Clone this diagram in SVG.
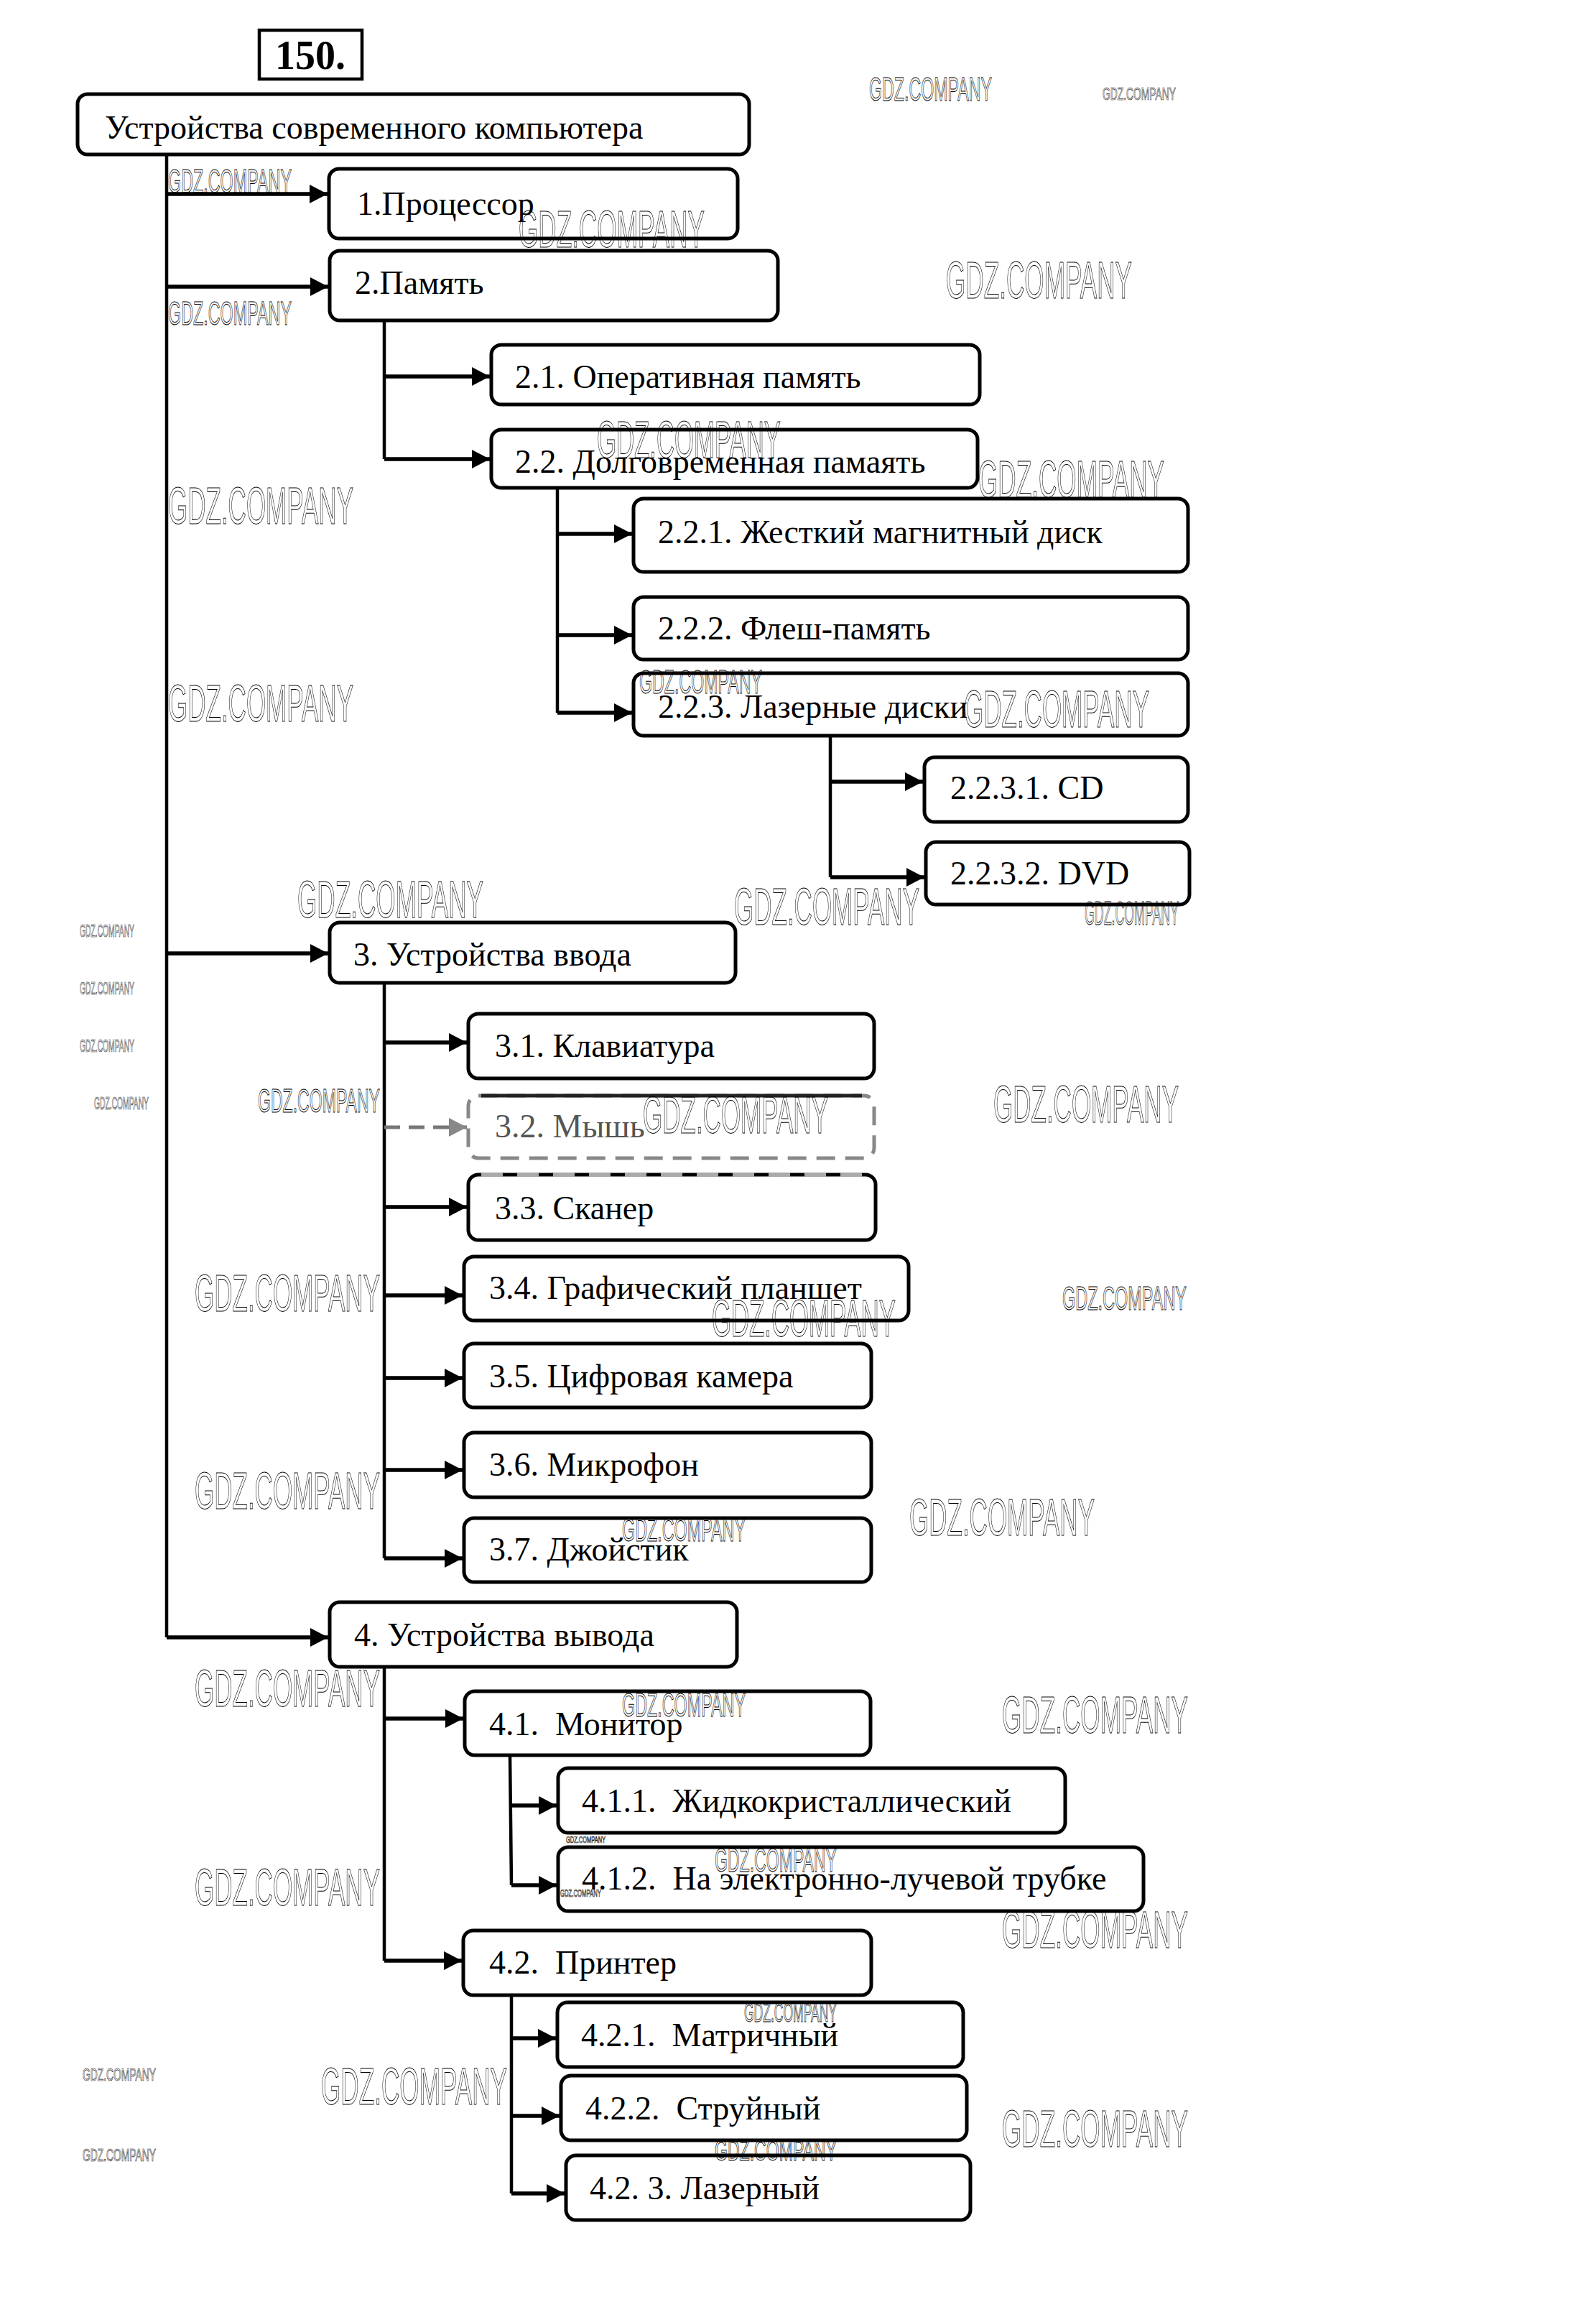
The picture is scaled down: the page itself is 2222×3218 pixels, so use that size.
<svg xmlns="http://www.w3.org/2000/svg" width="2222" height="3218" viewBox="0 0 2222 3218">
<style>
.bg{fill:#fff}
.box{fill:#fff;stroke:#000;stroke-width:5}
.t{font-family:"Liberation Serif","Times New Roman",serif;font-size:46px;fill:#000}
.ln{fill:none;stroke:#000;stroke-width:4.5}
.ar{fill:none;stroke:#000;stroke-width:5.5;marker-end:url(#ah)}
.gr{fill:none;stroke:#777;stroke-width:5;stroke-dasharray:22 12;marker-end:url(#ahg)}
.wm{font-family:"Liberation Sans",Arial,sans-serif;fill:none;stroke:#000;stroke-width:1}
.b{font-size:72px}.s{font-size:46px}.x{font-size:24px;stroke-width:0.7}
</style>
<defs>
<marker id="ah" markerUnits="userSpaceOnUse" markerWidth="26" markerHeight="26" refX="25" refY="13" orient="auto"><path d="M0,0 L25,13 L0,26 z" fill="#000"/></marker>
<marker id="ahg" markerUnits="userSpaceOnUse" markerWidth="26" markerHeight="26" refX="25" refY="13" orient="auto"><path d="M0,0 L25,13 L0,26 z" fill="#888"/></marker>
</defs>
<rect class="bg" x="0" y="0" width="2222" height="3218"/>

<g id="connectors">
<path class="ln" d="M232,215 V2279"/>
<path class="ar" d="M232,270 H456"/>
<path class="ar" d="M232,399 H457"/>
<path class="ar" d="M232,1327 H457"/>
<path class="ar" d="M232,2279 H457"/>
<path class="ln" d="M535,446 V639"/>
<path class="ar" d="M535,524 H682"/>
<path class="ar" d="M535,639 H682"/>
<path class="ln" d="M776,679 V992"/>
<path class="ar" d="M776,743 H880"/>
<path class="ar" d="M776,884 H880"/>
<path class="ar" d="M776,992 H880"/>
<path class="ln" d="M1156,1024 V1221"/>
<path class="ar" d="M1156,1088 H1285"/>
<path class="ar" d="M1156,1221 H1287"/>
<path class="ln" d="M535,1368 V2169"/>
<path class="ar" d="M535,1451 H650"/>
<path class="gr" d="M535,1569 H650"/>
<path class="ar" d="M535,1680 H650"/>
<path class="ar" d="M535,1803 H644"/>
<path class="ar" d="M535,1918 H644"/>
<path class="ar" d="M535,2046 H644"/>
<path class="ar" d="M535,2169 H644"/>
<path class="ln" d="M535,2320 V2729"/>
<path class="ar" d="M535,2392 H645"/>
<path class="ar" d="M535,2729 H643"/>
<path class="ln" d="M710,2443 L712,2624"/>
<path class="ar" d="M710,2513 H775"/>
<path class="ar" d="M712,2624 H775"/>
<path class="ln" d="M712,2777 V3053"/>
<path class="ar" d="M712,2837 H774"/>
<path class="ar" d="M712,2945 H779"/>
<path class="ar" d="M712,3053 H786"/>
</g>

<g id="title"><rect x="361" y="42" width="143" height="68" fill="#fff" stroke="#000" stroke-width="4.5"/><text x="432" y="96" text-anchor="middle" style="font-family:'Liberation Serif',serif;font-weight:bold;font-size:56px">150.</text></g>

<g id="root"><rect class="box" x="108" y="131" width="935" height="84" rx="14"/><text class="t" x="146" y="193">Устройства современного компьютера</text></g>
<g id="n1"><rect class="box" x="458" y="235" width="569" height="97" rx="14"/><text class="t" x="497" y="299">1.Процессор</text></g>
<g id="n2"><rect class="box" x="459" y="349" width="624" height="97" rx="14"/><text class="t" x="494" y="409">2.Память</text></g>
<g id="n21"><rect class="box" x="684" y="480" width="680" height="83" rx="14"/><text class="t" x="717" y="540">2.1. Оперативная память</text></g>
<g id="n22"><rect class="box" x="684" y="598" width="677" height="81" rx="14"/><text class="t" x="717" y="658">2.2. Долговременная памаять</text></g>
<g id="n221"><rect class="box" x="882" y="694" width="772" height="102" rx="14"/><text class="t" x="916" y="756">2.2.1. Жесткий магнитный диск</text></g>
<g id="n222"><rect class="box" x="882" y="831" width="772" height="87" rx="14"/><text class="t" x="916" y="890">2.2.2. Флеш-память</text></g>
<g id="n223"><rect class="box" x="882" y="937" width="772" height="87" rx="14"/><text class="t" x="916" y="999">2.2.3. Лазерные диски</text></g>
<g id="n2231"><rect class="box" x="1287" y="1054" width="367" height="90" rx="14"/><text class="t" x="1323" y="1112">2.2.3.1. CD</text></g>
<g id="n2232"><rect class="box" x="1289" y="1172" width="367" height="87" rx="14"/><text class="t" x="1323" y="1231">2.2.3.2. DVD</text></g>
<g id="n3"><rect class="box" x="459" y="1284" width="565" height="84" rx="14"/><text class="t" x="492" y="1344">3. Устройства ввода</text></g>
<g id="n31"><rect class="box" x="652" y="1411" width="565" height="90" rx="14"/><text class="t" x="689" y="1471">3.1. Клавиатура</text></g>
<g id="n32"><rect x="652" y="1525" width="565" height="87" rx="14" fill="#fff" stroke="#888" stroke-width="5" stroke-dasharray="26 14"/><path d="M670,1525 H1200" stroke="#222" stroke-width="5"/><text class="t" x="689" y="1583" style="fill:#555">3.2. Мышь</text></g>
<g id="n33"><rect class="box" x="652" y="1635" width="567" height="91" rx="14"/><path d="M670,1635 H1200" stroke="#aaa" stroke-width="6" stroke-dasharray="30 20"/><text class="t" x="689" y="1697">3.3. Сканер</text></g>
<g id="n34"><rect class="box" x="646" y="1749" width="619" height="89" rx="14"/><text class="t" x="681" y="1808">3.4. Графический планшет</text></g>
<g id="n35"><rect class="box" x="646" y="1870" width="567" height="89" rx="14"/><text class="t" x="681" y="1931">3.5. Цифровая камера</text></g>
<g id="n36"><rect class="box" x="646" y="1994" width="567" height="90" rx="14"/><text class="t" x="681" y="2054">3.6. Микрофон</text></g>
<g id="n37"><rect class="box" x="646" y="2113" width="567" height="89" rx="14"/><text class="t" x="681" y="2172">3.7. Джойстик</text></g>
<g id="n4"><rect class="box" x="459" y="2230" width="567" height="90" rx="14"/><text class="t" x="493" y="2291">4. Устройства вывода</text></g>
<g id="n41"><rect class="box" x="647" y="2354" width="565" height="89" rx="14"/><text class="t" x="681" y="2415" xml:space="preserve">4.1.  Монитор</text></g>
<g id="n411"><rect class="box" x="777" y="2461" width="706" height="90" rx="14"/><text class="t" x="810" y="2522" xml:space="preserve">4.1.1.  Жидкокристаллический</text></g>
<g id="n412"><rect class="box" x="777" y="2571" width="815" height="89" rx="14"/><text class="t" x="810" y="2630" xml:space="preserve">4.1.2.  На электронно-лучевой трубке</text></g>
<g id="n42"><rect class="box" x="645" y="2687" width="568" height="90" rx="14"/><text class="t" x="681" y="2747" xml:space="preserve">4.2.  Принтер</text></g>
<g id="n421"><rect class="box" x="776" y="2787" width="565" height="90" rx="14"/><text class="t" x="809" y="2848" xml:space="preserve">4.2.1.  Матричный</text></g>
<g id="n422"><rect class="box" x="781" y="2889" width="565" height="90" rx="14"/><text class="t" x="815" y="2950" xml:space="preserve">4.2.2.  Струйный</text></g>
<g id="n423"><rect class="box" x="788" y="3000" width="563" height="90" rx="14"/><text class="t" x="821" y="3061">4.2. 3. Лазерный</text></g>

<g id="watermarks">
<text class="wm s" x="1210" y="140" textLength="171" lengthAdjust="spacingAndGlyphs">GDZ.COMPANY</text>
<text class="wm x" x="1535" y="139" textLength="102" lengthAdjust="spacingAndGlyphs">GDZ.COMPANY</text>
<text class="wm s" x="234" y="268" textLength="172" lengthAdjust="spacingAndGlyphs">GDZ.COMPANY</text>
<text class="wm b" x="722" y="344" textLength="259" lengthAdjust="spacingAndGlyphs">GDZ.COMPANY</text>
<text class="wm s" x="234" y="452" textLength="172" lengthAdjust="spacingAndGlyphs">GDZ.COMPANY</text>
<text class="wm b" x="1317" y="415" textLength="259" lengthAdjust="spacingAndGlyphs">GDZ.COMPANY</text>
<text class="wm b" x="831" y="637" textLength="256" lengthAdjust="spacingAndGlyphs">GDZ.COMPANY</text>
<text class="wm b" x="1362" y="692" textLength="259" lengthAdjust="spacingAndGlyphs">GDZ.COMPANY</text>
<text class="wm b" x="234" y="729" textLength="258" lengthAdjust="spacingAndGlyphs">GDZ.COMPANY</text>
<text class="wm b" x="234" y="1004" textLength="258" lengthAdjust="spacingAndGlyphs">GDZ.COMPANY</text>
<text class="wm s" x="890" y="965" textLength="171" lengthAdjust="spacingAndGlyphs">GDZ.COMPANY</text>
<text class="wm b" x="1342" y="1012" textLength="258" lengthAdjust="spacingAndGlyphs">GDZ.COMPANY</text>
<text class="wm b" x="414" y="1277" textLength="259" lengthAdjust="spacingAndGlyphs">GDZ.COMPANY</text>
<text class="wm b" x="1022" y="1287" textLength="258" lengthAdjust="spacingAndGlyphs">GDZ.COMPANY</text>
<text class="wm s" x="1510" y="1287" textLength="131" lengthAdjust="spacingAndGlyphs">GDZ.COMPANY</text>
<text class="wm x" x="111" y="1304" textLength="76" lengthAdjust="spacingAndGlyphs">GDZ.COMPANY</text>
<text class="wm x" x="111" y="1384" textLength="76" lengthAdjust="spacingAndGlyphs">GDZ.COMPANY</text>
<text class="wm x" x="111" y="1464" textLength="76" lengthAdjust="spacingAndGlyphs">GDZ.COMPANY</text>
<text class="wm x" x="131" y="1544" textLength="76" lengthAdjust="spacingAndGlyphs">GDZ.COMPANY</text>
<text class="wm s" x="359" y="1548" textLength="170" lengthAdjust="spacingAndGlyphs">GDZ.COMPANY</text>
<text class="wm b" x="895" y="1577" textLength="258" lengthAdjust="spacingAndGlyphs">GDZ.COMPANY</text>
<text class="wm b" x="1383" y="1562" textLength="258" lengthAdjust="spacingAndGlyphs">GDZ.COMPANY</text>
<text class="wm b" x="271" y="1825" textLength="258" lengthAdjust="spacingAndGlyphs">GDZ.COMPANY</text>
<text class="wm b" x="991" y="1860" textLength="256" lengthAdjust="spacingAndGlyphs">GDZ.COMPANY</text>
<text class="wm s" x="1479" y="1823" textLength="173" lengthAdjust="spacingAndGlyphs">GDZ.COMPANY</text>
<text class="wm b" x="271" y="2100" textLength="258" lengthAdjust="spacingAndGlyphs">GDZ.COMPANY</text>
<text class="wm s" x="866" y="2145" textLength="172" lengthAdjust="spacingAndGlyphs">GDZ.COMPANY</text>
<text class="wm b" x="1266" y="2137" textLength="258" lengthAdjust="spacingAndGlyphs">GDZ.COMPANY</text>
<text class="wm b" x="271" y="2375" textLength="258" lengthAdjust="spacingAndGlyphs">GDZ.COMPANY</text>
<text class="wm s" x="866" y="2389" textLength="172" lengthAdjust="spacingAndGlyphs">GDZ.COMPANY</text>
<text class="wm b" x="1395" y="2412" textLength="259" lengthAdjust="spacingAndGlyphs">GDZ.COMPANY</text>
<text class="wm x" x="788" y="2565" textLength="55" lengthAdjust="spacingAndGlyphs" style="font-size:13px">GDZ.COMPANY</text>
<text class="wm b" x="271" y="2652" textLength="258" lengthAdjust="spacingAndGlyphs">GDZ.COMPANY</text>
<text class="wm s" x="995" y="2605" textLength="170" lengthAdjust="spacingAndGlyphs">GDZ.COMPANY</text>
<text class="wm x" x="780" y="2640" textLength="57" lengthAdjust="spacingAndGlyphs" style="font-size:15px">GDZ.COMPANY</text>
<text class="wm b" x="1395" y="2711" textLength="259" lengthAdjust="spacingAndGlyphs">GDZ.COMPANY</text>
<text class="wm s" x="1036" y="2814" textLength="129" lengthAdjust="spacingAndGlyphs" style="font-size:36px">GDZ.COMPANY</text>
<text class="wm x" x="115" y="2896" textLength="102" lengthAdjust="spacingAndGlyphs">GDZ.COMPANY</text>
<text class="wm b" x="447" y="2929" textLength="259" lengthAdjust="spacingAndGlyphs">GDZ.COMPANY</text>
<text class="wm b" x="1395" y="2988" textLength="259" lengthAdjust="spacingAndGlyphs">GDZ.COMPANY</text>
<text class="wm s" x="995" y="3007" textLength="170" lengthAdjust="spacingAndGlyphs" style="font-size:40px">GDZ.COMPANY</text>
<text class="wm x" x="115" y="3008" textLength="102" lengthAdjust="spacingAndGlyphs">GDZ.COMPANY</text>
</g>
</svg>
